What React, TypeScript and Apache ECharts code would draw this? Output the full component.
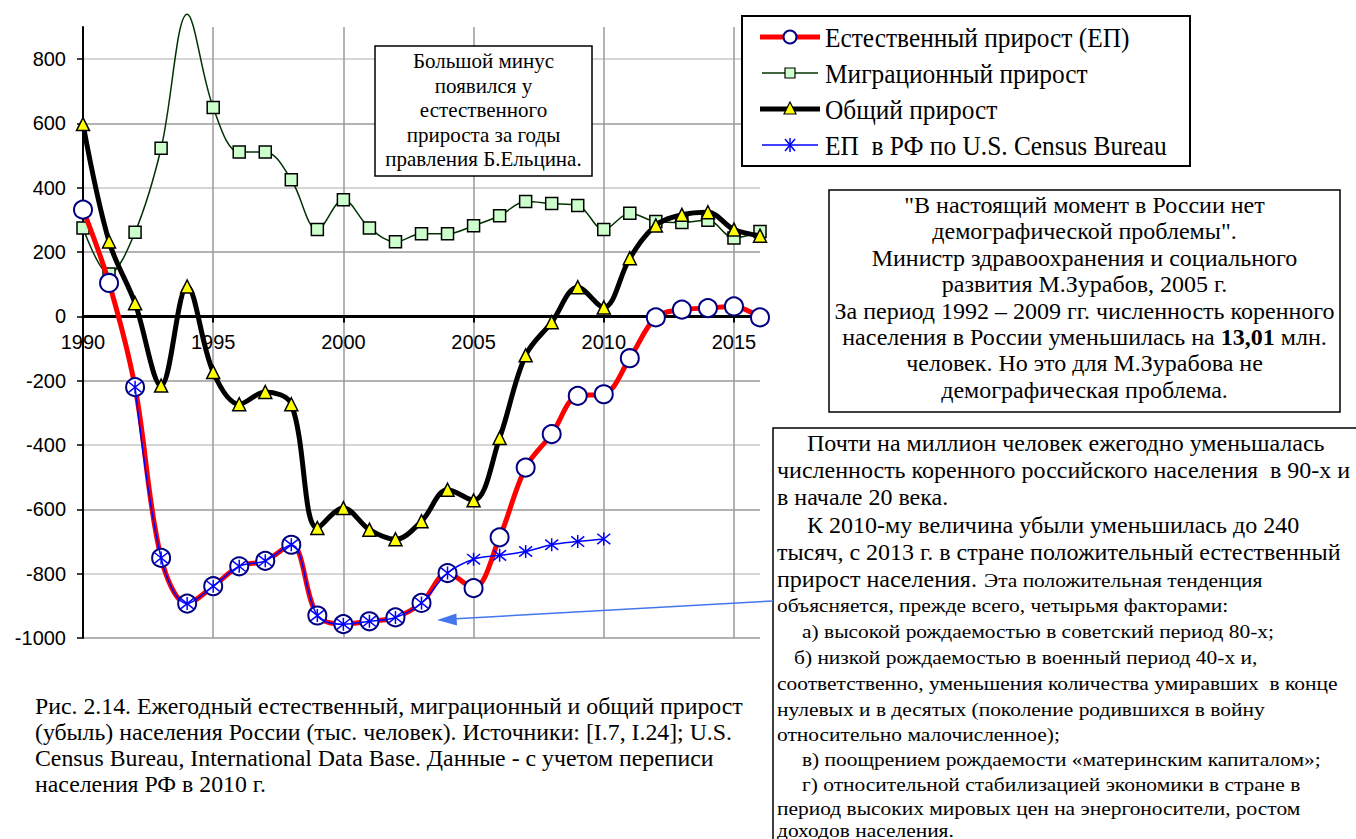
import React, { useEffect, useRef } from 'react';
import * as echarts from 'echarts';

const W = 1356;
const H = 839;

const years = [1990, 1991, 1992, 1993, 1994, 1995, 1996, 1997, 1998, 1999, 2000, 2001, 2002, 2003, 2004, 2005, 2006, 2007, 2008, 2009, 2010, 2011, 2012, 2013, 2014, 2015, 2016];
const naturalGrowth = [332, 104, -220, -751, -893, -839, -777, -760, -710, -930, -957, -948, -936, -891, -798, -845, -687, -470, -366, -247, -242, -130, -3, 21, 26, 31, -3];
const migrationGrowth = [275, 132, 262, 523, 940, 650, 511, 511, 425, 270, 363, 275, 232, 257, 257, 282, 313, 357, 351, 345, 270, 321, 295, 292, 299, 244, 264];
const totalGrowth = [598, 233, 41, -215, 93, -173, -273, -235, -273, -658, -596, -663, -693, -637, -539, -572, -378, -121, -18, 91, 28, 181, 283, 316, 324, 270, 251];
const censusNatural = [null, null, -220, -751, -893, -839, -777, -760, -710, -930, -957, -948, -936, -891, -798, -755, -743, -731, -710, -700, -692, null, null, null, null, null, null];

const Y_MIN = -1000;
const Y_MAX = 900;
const yTickValues = [-1000, -800, -600, -400, -200, 0, 200, 400, 600, 800];
const xTickValues = [1990, 1995, 2000, 2005, 2010, 2015];

const legendNames = ['Естественный прирост (ЕП)', 'Миграционный прирост', 'Общий прирост', 'ЕП  в РФ по U.S. Census Bureau'];
const noteLines = ['Большой минус', 'появился у', 'естественного', 'прироста за годы', 'правления Б.Ельцина.'];
const quoteLines = [
  '"В настоящий момент в России нет',
  'демографической проблемы".',
  'Министр здравоохранения и социального',
  'развития М.Зурабов, 2005 г.',
  'За период 1992 – 2009 гг. численность коренного',
  'населения в России уменьшилась на {b|13,01} млн.',
  'человек. Но это для М.Зурабова не',
  'демографическая проблема.',
];
const bigTextLines = [
  { t: 'Почти на миллион человек ежегодно уменьшалась', x: 807, y: 443 },
  { t: 'численность коренного российского населения  в 90-х и', x: 777, y: 470 },
  { t: 'в начале 20 века.', x: 777, y: 497 },
  { t: 'К 2010-му величина убыли уменьшилась до 240', x: 807, y: 525 },
  { t: 'тысяч, с 2013 г. в стране положительный естественный', x: 777, y: 552 },
  { t: 'прирост населения.', x: 777, y: 579 },
];
const smallTextLines = [
  { t: 'Эта положительная тенденция', x: 984, y: 580 },
  { t: 'объясняется, прежде всего, четырьмя факторами:', x: 777, y: 605 },
  { t: 'а) высокой рождаемостью в советский период 80-х;', x: 802, y: 631 },
  { t: 'б) низкой рождаемостью в военный период 40-х и,', x: 794, y: 657 },
  { t: 'соответственно, уменьшения количества умиравших  в конце', x: 777, y: 683 },
  { t: 'нулевых и в десятых (поколение родившихся в войну', x: 777, y: 709 },
  { t: 'относительно малочисленное);', x: 777, y: 734 },
  { t: 'в) поощрением рождаемости «материнским капиталом»;', x: 802, y: 759 },
  { t: 'г) относительной стабилизацией экономики в стране в', x: 802, y: 784 },
  { t: 'период высоких мировых цен на энергоносители, ростом', x: 777, y: 808 },
  { t: 'доходов населения.', x: 777, y: 830 },
];
const captionLines = [
  'Рис. 2.14. Ежегодный естественный, миграционный и общий прирост',
  '(убыль) населения России (тыс. человек). Источники: [I.7, I.24]; U.S.',
  'Census Bureau, International Data Base. Данные - с учетом переписи',
  'населения РФ в 2010 г.',
];

const SERIF = 'Liberation Serif, Times New Roman, serif';
const SANS = 'Liberation Sans, Arial, sans-serif';
const ASTERISK = 'path://M5,0L5,10M1,1L9,9M1,9L9,1';

const GRID_LEFT = 83;
const GRID_TOP = 27;
const GRID_W = 677;
const GRID_H = 611;

function pairs(vals: (number | null)[]) {
  return years.map((y, i) => [y, vals[i]]);
}

function buildOption() {
  const graphics: any[] = [];
  const Z = 50;
  // note box
  graphics.push({ type: 'rect', z: Z, shape: { x: 375, y: 46, width: 217, height: 130 }, style: { fill: '#fff', stroke: '#000', lineWidth: 1.5 } });
  noteLines.forEach((t, i) => {
    graphics.push({ type: 'text', z: Z + 1, x: 483.5, y: 61 + i * 24.6, style: { text: t, fontSize: 21, fontFamily: SERIF, fill: '#000', align: 'center', verticalAlign: 'middle' } });
  });
  // legend box
  graphics.push({ type: 'rect', z: Z, shape: { x: 742, y: 16, width: 448, height: 150 }, style: { fill: '#fff', stroke: '#000', lineWidth: 2 } });
  const ly = [37, 73, 109, 145];
  graphics.push({ type: 'line', z: Z + 1, shape: { x1: 760, y1: ly[0], x2: 820, y2: ly[0] }, style: { stroke: '#ff0000', lineWidth: 5 } });
  graphics.push({ type: 'circle', z: Z + 2, shape: { cx: 790, cy: ly[0], r: 6.5 }, style: { fill: '#fff', stroke: '#000080', lineWidth: 2 } });
  graphics.push({ type: 'line', z: Z + 1, shape: { x1: 762, y1: ly[1], x2: 818, y2: ly[1] }, style: { stroke: '#003300', lineWidth: 1.5 } });
  graphics.push({ type: 'rect', z: Z + 2, shape: { x: 785, y: ly[1] - 5, width: 10, height: 10 }, style: { fill: '#ccffcc', stroke: '#000', lineWidth: 1.2 } });
  graphics.push({ type: 'line', z: Z + 1, shape: { x1: 760, y1: ly[2], x2: 820, y2: ly[2] }, style: { stroke: '#000', lineWidth: 5 } });
  graphics.push({ type: 'polygon', z: Z + 2, shape: { points: [[790, ly[2] - 7], [784, ly[2] + 5], [796, ly[2] + 5]] }, style: { fill: '#ffff00', stroke: '#000', lineWidth: 1.2 } });
  graphics.push({ type: 'line', z: Z + 1, shape: { x1: 762, y1: ly[3], x2: 818, y2: ly[3] }, style: { stroke: '#0000ff', lineWidth: 1.5 } });
  graphics.push({ type: 'line', z: Z + 2, shape: { x1: 790, y1: ly[3] - 7, x2: 790, y2: ly[3] + 7 }, style: { stroke: '#0000ff', lineWidth: 1.5 } });
  graphics.push({ type: 'line', z: Z + 2, shape: { x1: 785, y1: ly[3] - 6, x2: 795, y2: ly[3] + 6 }, style: { stroke: '#0000ff', lineWidth: 1.5 } });
  graphics.push({ type: 'line', z: Z + 2, shape: { x1: 785, y1: ly[3] + 6, x2: 795, y2: ly[3] - 6 }, style: { stroke: '#0000ff', lineWidth: 1.5 } });
  legendNames.forEach((t, i) => {
    graphics.push({ type: 'text', z: Z + 1, x: 825, y: ly[i] + 1, scaleX: 0.94, style: { text: t, fontSize: 27, fontFamily: SERIF, fill: '#000', align: 'left', verticalAlign: 'middle' } });
  });
  // quote box
  graphics.push({ type: 'rect', z: Z, shape: { x: 829, y: 190, width: 511, height: 222 }, style: { fill: '#fff', stroke: '#000', lineWidth: 1.5 } });
  quoteLines.forEach((t, i) => {
    graphics.push({
      type: 'text', z: Z + 1, x: 1084.5, y: 205 + i * 26.4,
      style: { text: t, fontSize: 24, fontFamily: SERIF, fill: '#000', align: 'center', verticalAlign: 'middle', rich: { b: { fontSize: 24, fontFamily: SERIF, fontWeight: 'bold', fill: '#000' } } },
    });
  });
  // long text box
  graphics.push({ type: 'rect', z: Z, shape: { x: 773, y: 428, width: 600, height: 430 }, style: { fill: '#fff', stroke: '#000', lineWidth: 1.5 } });
  bigTextLines.forEach((l) => {
    graphics.push({ type: 'text', z: Z + 1, x: l.x, y: l.y, style: { text: l.t, fontSize: 24, fontFamily: SERIF, fill: '#000', align: 'left', verticalAlign: 'middle' } });
  });
  smallTextLines.forEach((l) => {
    graphics.push({ type: 'text', z: Z + 1, x: l.x, y: l.y, scaleX: 1.1, style: { text: l.t, fontSize: 19.5, fontFamily: SERIF, fill: '#000', align: 'left', verticalAlign: 'middle' } });
  });
  // arrow
  graphics.push({ type: 'line', z: Z + 2, shape: { x1: 773, y1: 601, x2: 452, y2: 619 }, style: { stroke: '#4477ee', lineWidth: 1.5 } });
  graphics.push({ type: 'polygon', z: Z + 2, shape: { points: [[437, 620], [457, 625.5], [456.4, 613.5]] }, style: { fill: '#4477ee' } });
  // caption
  captionLines.forEach((t, i) => {
    graphics.push({ type: 'text', z: Z + 1, x: 35, y: 706 + i * 26, style: { text: t, fontSize: 23.8, fontFamily: SERIF, fill: '#000', align: 'left', verticalAlign: 'middle' } });
  });

  const zeroOffset = (GRID_H * (0 - Y_MIN)) / (Y_MAX - Y_MIN);

  return {
    animation: false,
    backgroundColor: '#ffffff',
    grid: { left: GRID_LEFT, top: GRID_TOP, width: GRID_W, height: GRID_H, containLabel: false, show: false },
    xAxis: {
      type: 'value', min: 1990, max: 2016, interval: 5,
      position: 'bottom', offset: -zeroOffset,
      axisLine: { onZero: false, lineStyle: { color: '#000', width: 3 } },
      axisTick: { show: true, length: 6, customValues: xTickValues, lineStyle: { color: '#000', width: 2 } },
      axisLabel: {
        customValues: xTickValues, margin: 16, color: '#000', fontSize: 20, fontFamily: SANS,
        formatter: (v: number) => (v % 5 === 0 ? String(v) : ''),
      },
      splitLine: { show: true, lineStyle: { color: '#9a9a9a', width: 1.5 } },
    },
    yAxis: {
      type: 'value', min: Y_MIN, max: Y_MAX, interval: 100,
      axisLine: { show: true, lineStyle: { color: '#000', width: 2 } },
      axisTick: { show: true, length: 6, customValues: yTickValues, lineStyle: { color: '#000', width: 1.5 } },
      axisLabel: {
        customValues: yTickValues, margin: 17, color: '#000', fontSize: 20, fontFamily: SANS,
        formatter: (v: number) => (v % 200 === 0 && v <= 800 ? String(v) : ''),
      },
      splitLine: { show: true, lineStyle: { color: ['#9a9a9a', '#c8c8c8'], width: 1.5 } },
    },
    series: [
      {
        name: legendNames[1], type: 'line', smooth: 0.35, clip: false,
        data: pairs(migrationGrowth).map((p, i) => (years[i] === 1994 ? { value: p, symbol: 'none' } : p)),
        symbol: 'rect', symbolSize: 12,
        lineStyle: { color: '#003300', width: 1.5 },
        itemStyle: { color: '#ccffcc', borderColor: '#000', borderWidth: 1.5 },
        z: 2,
      },
      {
        name: legendNames[2], type: 'line', smooth: 0.35,
        data: pairs(totalGrowth),
        symbol: 'triangle', symbolSize: 13,
        lineStyle: { color: '#000', width: 5 },
        itemStyle: { color: '#ffff00', borderColor: '#000', borderWidth: 1.5 },
        z: 3,
      },
      {
        name: legendNames[0], type: 'line', smooth: 0.35,
        data: pairs(naturalGrowth),
        symbol: 'circle', symbolSize: 18,
        lineStyle: { color: '#ff0000', width: 5 },
        itemStyle: { color: '#ffffff', borderColor: '#000080', borderWidth: 2 },
        z: 4,
      },
      {
        name: legendNames[3], type: 'line', smooth: 0.35, connectNulls: false,
        data: pairs(censusNatural),
        symbol: ASTERISK, symbolSize: 13,
        lineStyle: { color: '#0000ff', width: 1.5 },
        itemStyle: { color: '#0000ff', borderColor: '#0000ff', borderWidth: 1.5 },
        z: 5,
      },
    ],
    graphic: { elements: graphics },
  };
}

export default function App() {
  const ref = useRef<HTMLDivElement>(null);
  useEffect(() => {
    const chart = echarts.init(ref.current!, null, { renderer: 'svg', width: W, height: H });
    chart.setOption(buildOption() as any);
    return () => chart.dispose();
  }, []);
  return <div ref={ref} style={{ position: 'fixed', left: 0, top: 0, width: W, height: H, background: '#fff' }} />;
}
